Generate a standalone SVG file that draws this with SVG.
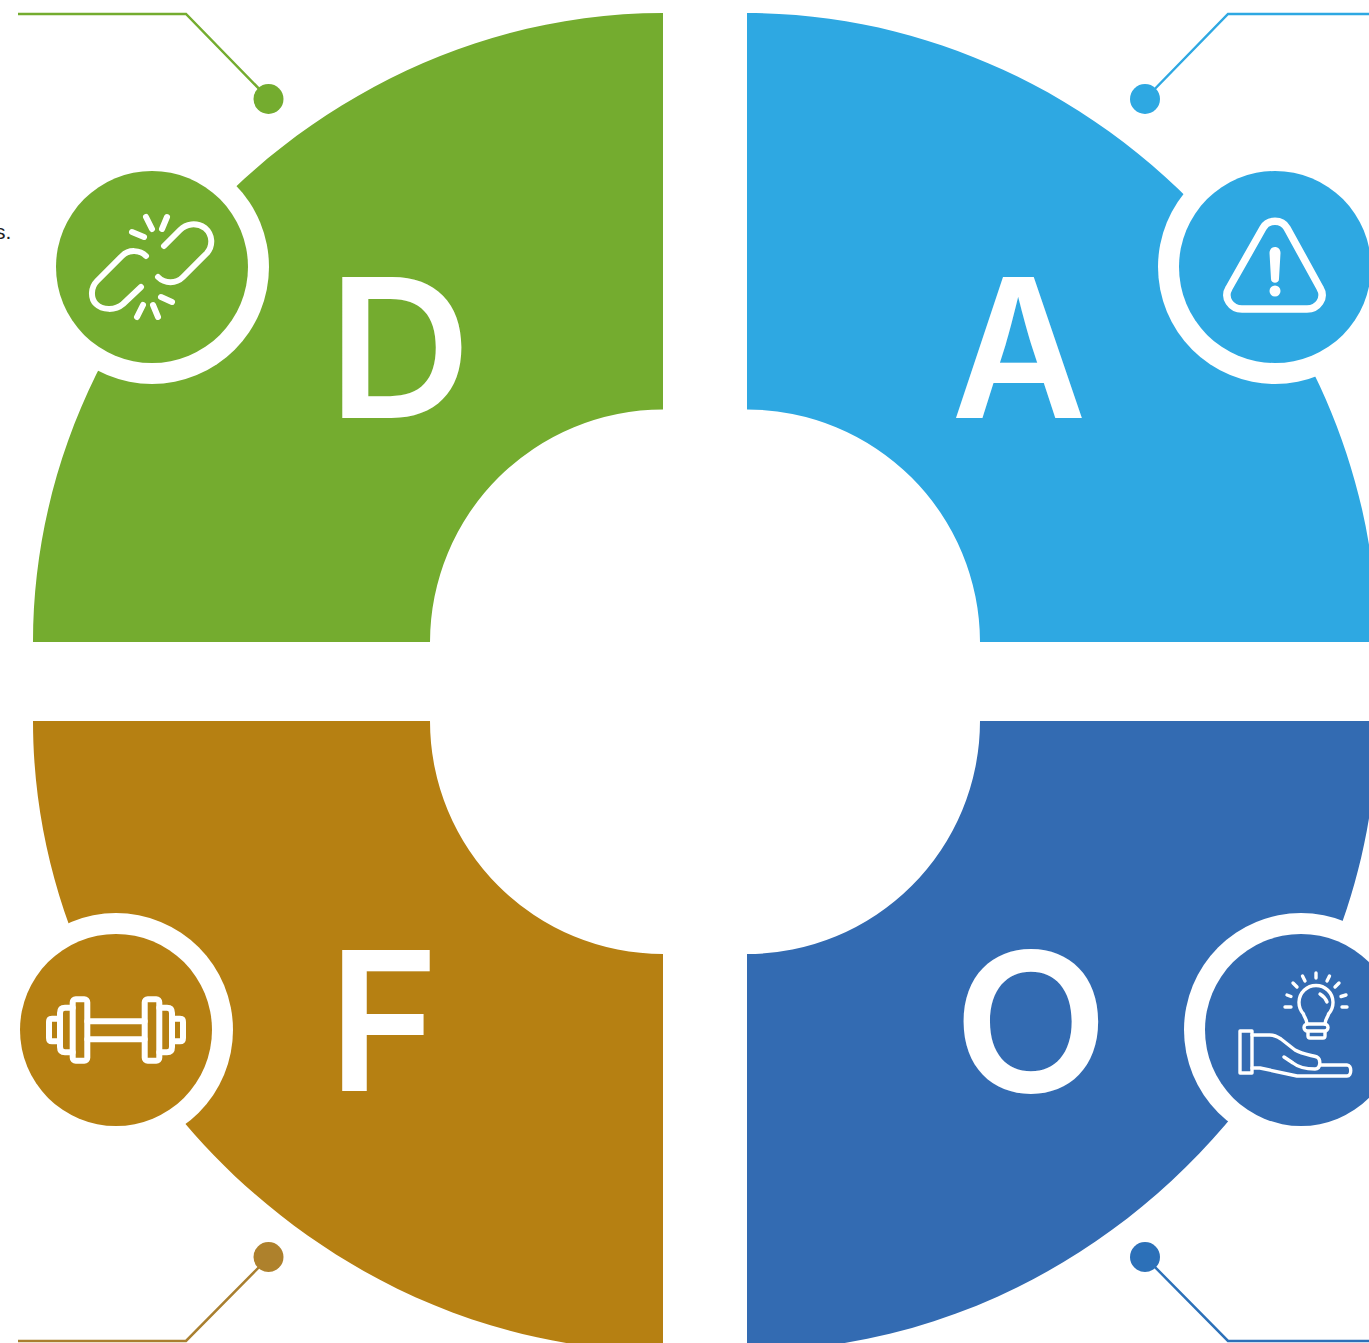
<svg xmlns="http://www.w3.org/2000/svg" width="1369" height="1343" viewBox="0 0 1369 1343">
<style>
.ltr{font-family:"Inter","Liberation Sans",sans-serif;font-size:194px;font-weight:600;fill:#fff;text-anchor:middle}
.ic{fill:none;stroke:#fff;stroke-linecap:round;stroke-linejoin:round}
.ring{fill:#fff}
.lead{fill:none;stroke-width:2.5}
.g{fill:#74AC2F}.b{fill:#2EA8E2}.y{fill:#B68012}.d{fill:#336BB2}
</style>
<rect width="1369" height="1343" fill="#fff"/>
<text x="-5" y="239" font-family="'Liberation Sans',sans-serif" font-size="21" fill="#222">s.</text>
<g id="connectors">
<path class="lead" stroke="#74AC2F" d="M18,14H186L269,99"/>
<path class="lead" stroke="#2EA8E2" d="M1369,14H1228L1145,99"/>
<path class="lead" stroke="#A97F2F" d="M18,1341H186L269,1257"/>
<path class="lead" stroke="#2C70B8" d="M1369,1341H1228L1145,1257"/>
<circle cx="268.500" cy="99" r="15" fill="#74AC2F"/>
<circle cx="1145" cy="99" r="15" fill="#2EA8E2"/>
<circle cx="268.500" cy="1257" r="15" fill="#AE812C"/>
<circle cx="1145" cy="1257" r="15" fill="#2C70B8"/>
</g>
<g id="node-d">
<path class="g" d="M33,642C33,304 325,13 663,13V409.500A233,233 0 0 0 430,642Z"/>
<circle class="ring" cx="152" cy="267" r="117"/>
<circle class="g" cx="152" cy="267" r="96"/>
<text class="ltr" transform="translate(399.500,418) scale(1.026,1)">D</text>
<g class="ic" stroke-width="6">
<path d="M146,256C140,250 129,249 122,256L97,281C91,287 90,298 96,304C102,310 115,311 123,304L141,287"/>
<path d="M164,246L180,230C186,224 196,222 205,228C213,235 213,246 207,253L183,277C176,284 165,284 158,277"/>
<path d="M132,232L144,237M146,217L152,229M167,217L162,229M161,297L172,302M153,305L158,317M143,305L137,317"/>
</g>
</g>
<g id="node-a">
<path class="b" d="M747,13C1089,13 1377,304 1377,642H980A233,233 0 0 0 747,409.500Z"/>
<circle class="ring" cx="1275" cy="267" r="117"/>
<circle class="b" cx="1275" cy="267" r="96"/>
<text class="ltr" transform="translate(1019,418) scale(0.955,1)">A</text>
<g class="ic" stroke-width="7.5">
<path d="M1263,228C1268,219 1282,219 1287,228L1320,288C1326,298 1318,309 1307,309H1242C1231,309 1223,298 1229,288Z"/>
</g>
<path fill="#fff" d="M1269.500,253C1269.500,245 1280.500,245 1280.500,253L1279,279C1279,284 1271,284 1271,279Z"/>
<circle cx="1275" cy="291" r="5.5" fill="#fff"/>
</g>
<g id="node-f">
<path class="y" d="M33,721C33,1059 325,1351 663,1351V954A233,233 0 0 1 430,721Z"/>
<circle class="ring" cx="116" cy="1030" r="117"/>
<circle class="y" cx="116" cy="1030" r="96"/>
<text class="ltr" transform="translate(383.600,1091) scale(0.967,1)">F</text>
<g class="ic" stroke-width="6">
<rect x="72.7" y="999.3" width="14.6" height="61.4" rx="3"/>
<rect x="144.7" y="999.3" width="14.6" height="61.4" rx="3"/>
<path d="M72.7,1007.7H65Q60,1007.7 60,1013V1047Q60,1052.3 65,1052.3H72.7M159.3,1007.7H167Q172,1007.7 172,1013V1047Q172,1052.3 167,1052.3H159.3"/>
<path d="M60,1018.7H52Q49,1018.7 49,1022V1038Q49,1041.3 52,1041.3H60M172,1018.7H180Q183,1018.7 183,1022V1038Q183,1041.3 180,1041.3H172"/>
<path d="M87.3,1021.3H144.7M87.3,1039.3H144.7"/>
</g>
</g>
<g id="node-o">
<path class="d" d="M747,1351C1089,1351 1377,1059 1377,721H980A233,233 0 0 1 747,954Z"/>
<circle class="ring" cx="1301" cy="1030" r="117"/>
<circle class="d" cx="1301" cy="1030" r="96"/>
<text class="ltr" transform="translate(1031,1092) scale(1.038,1)">O</text>
<g class="ic" stroke-width="3.4">
<rect x="1240" y="1031" width="12" height="42"/>
<path d="M1252,1035H1270C1275,1035 1278,1037 1281,1039L1295,1050C1302,1054 1310,1055 1317,1057C1321,1059 1321,1069 1315,1069C1305,1069 1298,1067 1293,1063L1284,1057"/>
<path d="M1252,1068H1260L1297,1076H1347C1352,1076 1352,1065 1347,1065H1320"/>
<path d="M1307,1024C1307,1019 1304,1017 1303.500,1014A17,17 0 1 1 1328.500,1014C1328,1017 1325,1019 1325,1024"/>
<rect x="1304" y="1024" width="24" height="7" rx="3.5"/>
<path d="M1308,1032V1036Q1308,1038 1310,1038H1323Q1325,1038 1325,1036V1032"/>
<path d="M1320,994Q1325,997 1327,1002"/>
<path d="M1316,973V978M1302.500,976L1305,981M1329.500,976L1327,981M1293,983L1297,987M1339,983L1335,987M1287,995L1291,996.500M1346,995L1341,996.500M1285,1007H1291M1347,1007H1342"/>
</g>
</g>
</svg>
